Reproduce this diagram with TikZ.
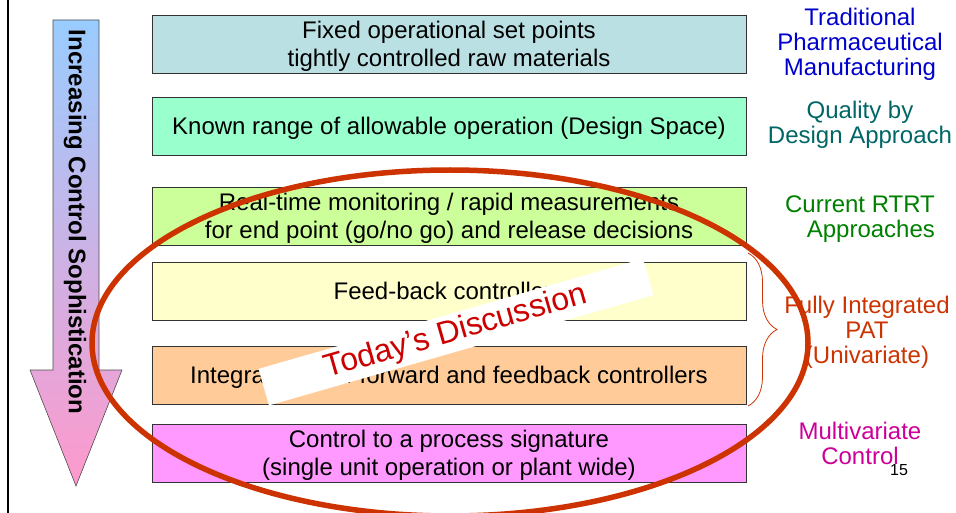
\documentclass[tikz,border=0pt]{standalone}
\usepackage{fontspec}
\setmainfont{Liberation Sans}
\usetikzlibrary{decorations.pathreplacing,shapes.geometric}

% level fills
\definecolor{lvlA}{HTML}{BBE0E3}
\definecolor{lvlB}{HTML}{99FFCC}
\definecolor{lvlC}{HTML}{CCFF99}
\definecolor{lvlD}{HTML}{FFFFCC}
\definecolor{lvlE}{HTML}{FFCC99}
\definecolor{lvlF}{HTML}{FF99FF}
% arrow gradient
\definecolor{arrowtop}{HTML}{99CCFF}
\definecolor{arrowbot}{HTML}{FF99CC}
% label colours
\definecolor{tradblue}{HTML}{0000CC}
\definecolor{qbdteal}{HTML}{006666}
\definecolor{rtrtgreen}{HTML}{008000}
\definecolor{patred}{HTML}{CC3300}
\definecolor{mvmag}{HTML}{CC0099}
\definecolor{discred}{HTML}{CC0000}

\begin{document}
\begin{tikzpicture}[x=1pt,y=-1pt,
  level/.style={draw=black!80, line width=0.9pt, minimum width=594pt,
    minimum height=58pt, inner sep=0pt, align=center, text=black,
    text depth=0pt, font=\fontsize{24}{28}\selectfont},
  tag/.style={align=center, inner sep=0pt, text depth=0pt,
    font=\fontsize{24}{25}\selectfont},
  ring/.style={draw=patred, line width=5.5pt, ellipse, inner sep=0pt,
    minimum width=716pt, minimum height=346pt},
  banner/.style={fill=white, rotate=16, minimum width=400pt,
    minimum height=38pt, inner sep=0pt, text=discred,
    font=\fontsize{32}{32}\selectfont},
  bracket/.style={decorate, decoration={brace, amplitude=29pt},
    draw=patred, line width=0.8pt}]
\useasboundingbox (0,0) rectangle (956,513);

% frame line on the left
\coordinate (frameTop) at (8,0);
\coordinate (frameBot) at (8,513);
\draw[line width=2pt] (frameTop) -- (frameBot);

% big down arrow
\shade[top color=arrowtop, bottom color=arrowbot, draw=black!70, line width=0.6pt]
  (53,20) -- (99,20) -- (99,370) -- (122,370) -- (76,486) -- (30,370)
  -- (53,370) -- cycle;
\node[rotate=-90, inner sep=0pt, font=\fontsize{24}{24}\selectfont\bfseries]
  (arrowtext) at (75,222) {Increasing Control Sophistication};

% control levels
\node[level, fill=lvlA] (b1) at (449,44)
  {Fixed operational set points\\tightly controlled raw materials};
\node[level, fill=lvlB] (b2) at (449,126)
  {Known range of allowable operation (Design Space)};
\node[level, fill=lvlC] (b3) at (449,216)
  {Real-time monitoring / rapid measurements\\for end point (go/no go) and release decisions};
\node[level, fill=lvlD] (b4) at (449,291) {Feed-back controllers};
\node[level, fill=lvlE] (b5) at (449,375)
  {Integrated feed-forward and feedback controllers};
\node[level, fill=lvlF] (b6) at (449,453)
  {Control to a process signature\\(single unit operation or plant wide)};

% labels on the right
\node[tag, text=tradblue] (l1) at (860,42)
  {Traditional\\Pharmaceutical\\Manufacturing};
\node[tag, text=qbdteal] (l2) at (860,122) {Quality by\\Design Approach};
\node[tag, text=rtrtgreen, align=right] (l3) at (860,217)
  {Current RTRT\\Approaches};
\node[tag, text=patred] (l4) at (867,330)
  {Fully Integrated\\PAT\\(Univariate)};
\node[tag, text=mvmag] (l5) at (860,443) {Multivariate\\Control};

% brace grouping the two PAT levels
\coordinate (braceTop) at (748,253);
\coordinate (braceBot) at (748,406);
\draw[bracket] (braceTop) -- (braceBot);

% highlight ring and banner
\node[ring] (focus) at (450,343) {};
\node[banner] (today) at (456,332) {Today’s Discussion};

% page number
\node[inner sep=0pt, font=\fontsize{16}{16}\selectfont] (pageno) at (899,470) {15};
\end{tikzpicture}
\end{document}
